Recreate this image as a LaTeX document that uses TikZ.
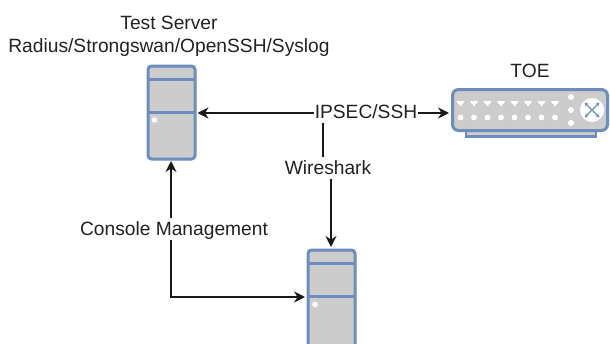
\documentclass[tikz,border=0pt]{standalone}
\usepackage{fontspec}
\setmainfont{Liberation Sans}
\usetikzlibrary{arrows.meta}
\definecolor{boxfill}{HTML}{CCCCCC}
\definecolor{boxline}{HTML}{6C8EBF}
\definecolor{txt}{HTML}{222222}
\tikzset{
  server/.style={draw=boxline, fill=boxfill, line width=3pt, rounded corners=3.5pt, minimum width=47pt, minimum height=93pt, inner sep=0pt, anchor=north west},
  rule/.style={draw=boxline, line width=3pt},
  label/.style={fill=white, inner xsep=1pt, inner ysep=1pt, text height=16pt, text depth=4pt, text=txt, font=\fontsize{19.2}{23}\selectfont},
  caption/.style={text=txt, font=\fontsize{19.2}{23}\selectfont, align=center},
  link/.style={line width=1.7pt, draw=black!90, >={Stealth[length=11pt,width=11pt]}}
}
\begin{document}
\begin{tikzpicture}[x=1pt, y=-1pt]
\useasboundingbox (0,0) rectangle (610,343);
\clip (0,0) rectangle (610,343);
% servers
\node[server] (test) at (146.5,64.5) {};
\draw[rule] (146.5,79.5) -- (193.5,79.5) (146.5,112.5) -- (193.5,112.5);
\fill[white] (154.5,120) circle (2.8);
\node[server, minimum height=110pt] (mgmt) at (306.5,248.5) {};
\draw[rule] (306.5,263.5) -- (353.5,263.5) (306.5,296.5) -- (353.5,296.5);
\fill[white] (315,304.5) circle (2.8);
% switch
\draw[draw=boxline, fill=boxfill, line width=2.4pt] (466,128) rectangle (596,136.5);
\node[draw=boxline, fill=boxfill, line width=3pt, rounded corners=6pt, minimum width=155pt, minimum height=41pt, inner sep=0pt, anchor=north west] (toe) at (451,88) {};
\foreach \x in {0,...,7}{
	\fill[white] (460.5+13.5*\x-4,101) -- ++(8,0) -- ++(-1.7,3) -- ++(-1.3,0) -- ++(0,1.8) -- ++(-2,0) -- ++(0,-1.8) -- ++(-1.3,0) -- cycle;
	\fill[white] (460.5+13.5*\x,117.5) circle (2.9);
}
\foreach \y in {97,110,123}
	\fill[white] (571,\y) circle (3);
\fill[white] (592,110) circle (12);
\draw[boxline, line width=1.1pt, <->, >={Stealth[length=4pt,width=4pt]}] (584.5,102.5) -- (599.5,117.5);
\draw[boxline, line width=1.1pt, <->, >={Stealth[length=4pt,width=4pt]}] (599.5,102.5) -- (584.5,117.5);
% connectors
\coordinate (tap) at (323,113);
\draw[link, <->] (test.east |- tap) ++(1,0) -- (449,113);
\draw[link, ->] (tap) -- (323,168) -- (331,168) -- (331,247);
\draw[link, <->] (171,161) -- (171,297) -- (305,297);
% labels
\node[label] (ipsec) at (366,112) {IPSEC/SSH};
\node[label] (wire) at (328,168) {Wireshark};
\node[label] (console) at (174,229) {Console Management};
\node[caption] (title) at (169,36) {Test Server\\Radius/Strongswan/OpenSSH/Syslog};
\node[caption] (toelabel) at (530,71) {TOE};
\end{tikzpicture}
\end{document}
